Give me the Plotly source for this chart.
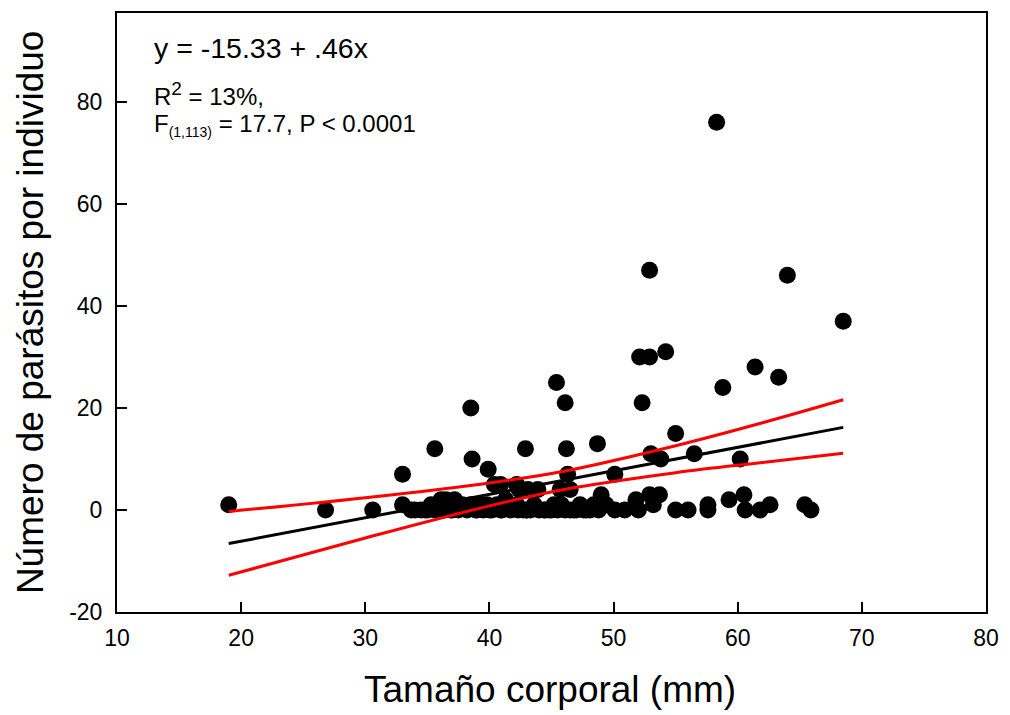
import plotly.graph_objects as go

# ---- data ----
body_size = [
    19.0, 26.8, 30.6, 33.0, 35.6, 38.5, 38.6, 39.9, 42.9, 45.4, 46.1, 46.2, 46.3, 48.7, 50.1,
    52.1, 52.9, 54.2, 52.9, 52.3, 53.0, 53.8, 55.0, 56.5, 58.8, 58.3, 60.2, 61.4, 63.3, 64.0, 68.5,
    40.4, 40.9, 42.2, 42.4, 43.1, 43.9, 45.7, 46.5,
    33.0, 33.7, 34.5, 35.3, 36.1, 36.5, 37.2, 37.8, 38.5, 39.2, 39.8, 40.6, 41.3, 41.4, 42.2,
    42.7, 43.6, 44.4, 45.2, 45.8, 46.8, 47.3, 47.8, 48.4, 49.0, 49.4, 50.1, 50.9, 51.8, 52.0,
    52.9, 53.7, 53.2, 55.0, 56.0, 57.6, 57.6, 59.3, 60.5, 60.6, 61.8, 62.6, 65.4, 65.9,
    34.0, 34.8, 35.6, 36.3, 36.9, 37.5, 38.2, 38.9, 39.5, 40.2, 40.9, 41.7, 42.3, 43.0, 43.3,
    44.0, 44.8, 45.5, 46.1, 46.5, 47.0, 47.6, 48.1, 48.8, 35.0, 37.0, 40.0, 44.5, 45.0, 39.0,
    41.0, 43.0,
]
parasites = [
    1, 0, 0, 7, 12, 20, 10, 8, 12, 25, 21, 12, 7, 13, 7,
    30, 30, 31, 47, 21, 11, 10, 15, 11, 24, 76, 10, 28, 26, 46, 37,
    5, 5, 5, 4, 4, 4, 4, 4,
    1, 0, 0, 1, 2, 2, 2, 1, 1, 1, 1, 1, 2, 1, 1,
    0, 1, 0, 1, 1, 0, 1, 0, 1, 3, 1, 0, 0, 2, 0,
    3, 3, 1, 0, 0, 1, 0, 2, 3, 0, 0, 1, 1, 0,
    0, 0, 0, 0, 0, 0, 0, 0, 0, 0, 0, 0, 0, 0, 0,
    0, 0, 0, 0, 0, 0, 0, 0, 0, 0, 0, 0, 0, 0, 0,
    0, 0,
]

# regression line (from the printed equation) and its range
intercept = -15.33
slope = 0.46
fit_x_range = [19.0, 68.5]

# 95% confidence band
band_x = [19.0, 30.0, 40.0, 46.0, 55.0, 62.0, 68.5]
band_upper = [-0.3, 2.4, 5.3, 7.6, 12.6, 17.1, 21.6]
band_lower = [-12.8, -5.5, 0.8, 4.0, 7.3, 9.3, 11.1]

x_ticks = [10, 20, 30, 40, 50, 60, 70, 80]
y_ticks = [-20, 0, 20, 40, 60, 80]
y_tick_labels = ["-20", "0", "20", "40", "60", "80"]

FONT = "Liberation Sans, Arial, sans-serif"

fig = go.Figure()
fig.add_trace(go.Scatter(
    x=body_size, y=parasites, mode="markers",
    marker=dict(size=17, color="black", line=dict(width=0)),
    showlegend=False, hoverinfo="x+y",
))
fit_y = [intercept + slope * v for v in fit_x_range]
fig.add_trace(go.Scatter(x=fit_x_range, y=fit_y, mode="lines",
                         line=dict(color="black", width=3), showlegend=False))
fig.add_trace(go.Scatter(x=band_x, y=band_upper, mode="lines", line_shape="spline",
                         line=dict(color="red", width=3), showlegend=False))
fig.add_trace(go.Scatter(x=band_x, y=band_lower, mode="lines", line_shape="spline",
                         line=dict(color="red", width=3), showlegend=False))

axis_common = dict(
    showline=True, mirror=True, linecolor="black", linewidth=2,
    ticks="inside", ticklen=10, tickwidth=1.5, tickcolor="black",
    showgrid=False, zeroline=False,
    tickfont=dict(family=FONT, size=23, color="black"),
)
fig.update_xaxes(range=[10, 80], tickvals=x_ticks, ticklabelstandoff=4, **axis_common)
fig.update_yaxes(range=[-20, 97.4], tickvals=y_ticks, ticktext=y_tick_labels,
                 ticklabelstandoff=8, **axis_common)

annotations = [
    dict(text="y = -15.33 + .46x", x=12.85, y=90.5, size=28.5),
    dict(text='R<sup><span style="font-size:19px">2</span></sup> = 13%,', x=12.85, y=81.6, size=24),
    dict(text='F<sub><span style="font-size:14px">(1,113)</span></sub> = 17.7, P < 0.0001',
         x=12.85, y=75.5, size=24),
]
for a in annotations:
    fig.add_annotation(xref="x", yref="y", xanchor="left", yanchor="middle",
                       showarrow=False, x=a["x"], y=a["y"], text=a["text"],
                       font=dict(family=FONT, color="black", size=a["size"]))

fig.add_annotation(text="Tamaño corporal (mm)", xref="paper", yref="paper",
                   x=0.498, y=-0.13, xanchor="center", yanchor="middle", showarrow=False,
                   font=dict(family=FONT, size=37, color="black"))
fig.add_annotation(text="Número de parásitos por individuo", xref="paper", yref="paper",
                   x=-0.0994, y=0.5, xanchor="center", yanchor="middle", showarrow=False,
                   textangle=-90, font=dict(family=FONT, size=37, color="black"))

fig.update_layout(
    width=1010, height=715,
    margin=dict(l=117, r=18, t=11, b=103),
    paper_bgcolor="white", plot_bgcolor="white",
    font=dict(family=FONT, color="black"),
)
fig.write_html("out.html")
